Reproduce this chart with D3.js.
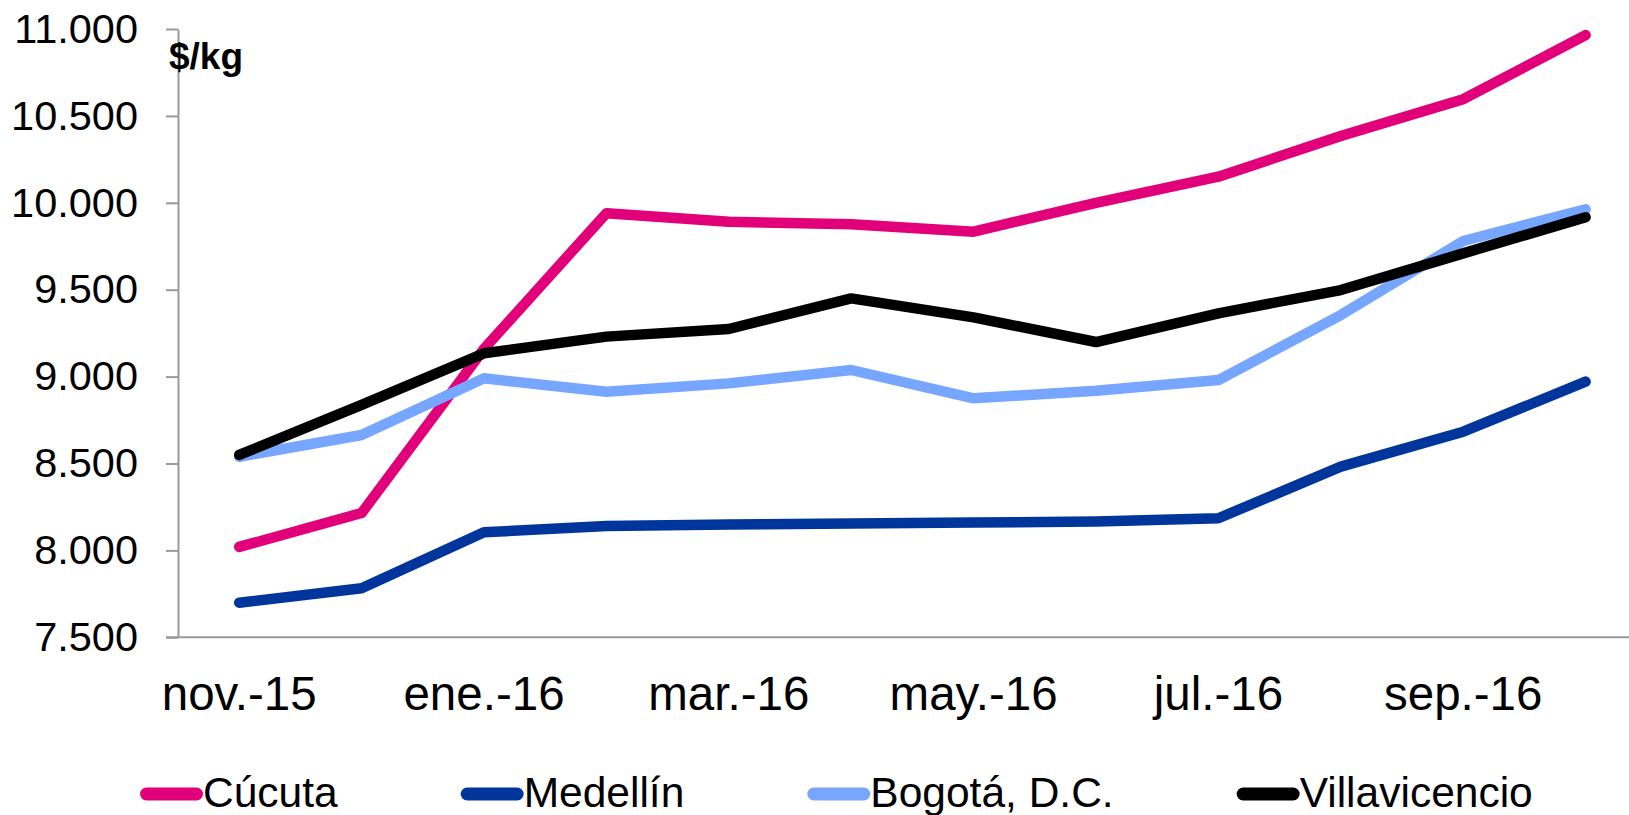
<!DOCTYPE html>
<html>
<head>
<meta charset="utf-8">
<script src="https://cdn.jsdelivr.net/npm/d3@7"></script>
<style>
  html, body { margin: 0; padding: 0; background: #fff; }
  svg { display: block; font-family: "Liberation Sans", Arial, sans-serif; }
</style>
</head>
<body>
<svg id="chart" width="1629" height="815"></svg>
<script>
// ---- data ----
const months = ["nov.-15","dic.-15","ene.-16","feb.-16","mar.-16","abr.-16","may.-16","jun.-16","jul.-16","ago.-16","sep.-16","oct.-16"];
const xTickLabels = ["nov.-15","ene.-16","mar.-16","may.-16","jul.-16","sep.-16"];
const yTicks = [7500, 8000, 8500, 9000, 9500, 10000, 10500, 11000];
const seriesNames = ["Cúcuta", "Medellín", "Bogotá, D.C.", "Villavicencio"];
const cucuta        = [8020, 8215, 9160, 9940, 9891, 9876, 9834, 10000, 10150, 10384, 10596, 10965];
const medellin      = [7699, 7782, 8104, 8140, 8149, 8155, 8160, 8166, 8185, 8482, 8683, 8971];
const bogota        = [8539, 8664, 8990, 8913, 8961, 9038, 8875, 8918, 8980, 9354, 9780, 9963];
const villavicencio = [8549, 8837, 9134, 9230, 9274, 9450, 9341, 9199, 9364, 9498, 9709, 9917];
const unitLabel = "$/kg";

const colors = ["#E2007A", "#00359C", "#76A6FF", "#000000"];
const seriesValues = [cucuta, medellin, bogota, villavicencio];

// ---- layout ----
const svg = d3.select("#chart");
const plotLeft = 178, plotTop = 29, plotBottom = 637.3, step = 122.4;

const x = d3.scaleBand().domain(months).range([plotLeft, plotLeft + step * months.length]).padding(0);
const y = d3.scaleLinear().domain([7500, 11000]).range([plotBottom, plotTop]);

const loc = d3.formatLocale({decimal: ",", thousands: ".", grouping: [3], currency: ["$", ""]});
const fmt = loc.format(",d");

// Y axis
const yAxis = d3.axisLeft(y).tickValues(yTicks).tickSize(12).tickSizeOuter(0).tickPadding(28).tickFormat(fmt);
const gy = svg.append("g").attr("transform", `translate(${plotLeft},0)`).call(yAxis);
gy.select(".domain").attr("stroke", "#9a9a9a").attr("stroke-width", 2);
gy.selectAll(".tick line").attr("stroke", "#9a9a9a").attr("stroke-width", 2);
gy.selectAll(".tick text").attr("font-size", 41.5).attr("fill", "#000")
  .attr("font-family", "'Liberation Sans', Arial, sans-serif");

// X axis
const xAxis = d3.axisBottom(x).tickValues(xTickLabels).tickSize(0).tickPadding(0);
const gx = svg.append("g").attr("transform", `translate(0,${plotBottom})`).call(xAxis);
gx.select(".domain").remove();
gx.selectAll(".tick text").attr("font-size", 47.5).attr("fill", "#000").attr("dy", null).attr("y", 73)
  .attr("font-family", "'Liberation Sans', Arial, sans-serif");
svg.append("line")
  .attr("x1", plotLeft - 12).attr("x2", 1629)
  .attr("y1", plotBottom).attr("y2", plotBottom)
  .attr("stroke", "#9a9a9a").attr("stroke-width", 2);

// unit label
svg.append("text").attr("x", 169).attr("y", 69)
  .attr("font-size", 37).attr("font-weight", "bold").attr("fill", "#000")
  .text(unitLabel);

// lines
const line = d3.line()
  .x((d, i) => x(months[i]) + x.bandwidth() / 2)
  .y(d => y(d));

seriesValues.forEach((vals, k) => {
  svg.append("path")
    .datum(vals)
    .attr("d", line)
    .attr("fill", "none")
    .attr("stroke", colors[k])
    .attr("stroke-width", 10.5)
    .attr("stroke-linecap", "round")
    .attr("stroke-linejoin", "round");
});

// legend
const legY = 794;
let lx = 140;
seriesNames.forEach((name, k) => {
  const g = svg.append("g");
  g.append("line")
    .attr("x1", lx + 6.5).attr("x2", lx + 56.5)
    .attr("y1", legY).attr("y2", legY)
    .attr("stroke", colors[k]).attr("stroke-width", 13)
    .attr("stroke-linecap", "round");
  const t = g.append("text")
    .attr("x", lx + 63).attr("y", 807)
    .attr("font-size", 42.5).attr("fill", "#000")
    .text(name);
  const w = t.node().getComputedTextLength();
  lx = lx + 63 + w + 123;
});
</script>
</body>
</html>
